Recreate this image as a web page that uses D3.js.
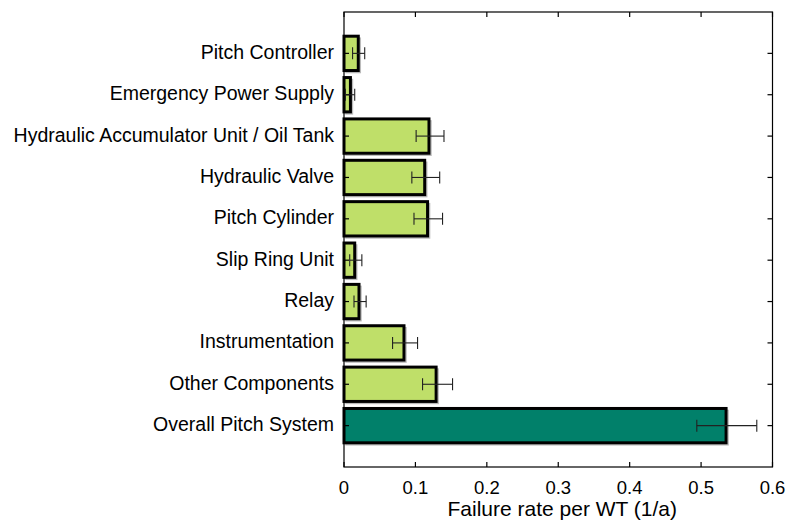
<!DOCTYPE html>
<html>
<head>
<meta charset="utf-8">
<script src="https://cdn.jsdelivr.net/npm/d3@7/dist/d3.min.js"></script>
<style>
  html, body { margin: 0; padding: 0; background: #fff; }
  svg { display: block; font-family: "Liberation Sans", Arial, sans-serif; }
</style>
</head>
<body>
<svg id="chart" width="787" height="526"></svg>
<script>
// Pitch system components, top to bottom
const categories = [
  "Pitch Controller",
  "Emergency Power Supply",
  "Hydraulic Accumulator Unit / Oil Tank",
  "Hydraulic Valve",
  "Pitch Cylinder",
  "Slip Ring Unit",
  "Relay",
  "Instrumentation",
  "Other Components",
  "Overall Pitch System"
];
// Failure rate per wind turbine and year
const rates = [0.020, 0.009, 0.119, 0.113, 0.117, 0.015, 0.021, 0.084, 0.129, 0.535];
// Confidence interval bounds
const lower = [0.012, 0.002, 0.101, 0.095, 0.098, 0.008, 0.014, 0.068, 0.110, 0.494];
const upper = [0.029, 0.015, 0.140, 0.134, 0.138, 0.025, 0.031, 0.103, 0.152, 0.578];
const xTicks = [0, 0.1, 0.2, 0.3, 0.4, 0.5, 0.6];
const xTickLabels = ["0", "0.1", "0.2", "0.3", "0.4", "0.5", "0.6"];

const plotL = 344, plotR = 772.5, plotT = 12, plotB = 467;
const svg = d3.select("#chart");

const x = d3.scaleLinear().domain([0, 0.6]).range([plotL, plotR]);
const y = d3.scalePoint().domain(categories).range([plotT, plotB]).padding(1);
const barH = y.step() * 0.83;

const data = categories.map((c, i) => ({ c, v: rates[i], lo: lower[i], hi: upper[i], overall: i === categories.length - 1 }));

// subtle drop shadow under each bar
svg.append("g").selectAll("rect").data(data).join("rect")
  .attr("x", x(0) + 2)
  .attr("y", d => y(d.c) - barH / 2 + 2)
  .attr("width", d => x(d.v) - x(0))
  .attr("height", barH)
  .attr("fill", "none")
  .attr("stroke", "#bbb")
  .attr("stroke-width", 1.5);

// bars
svg.append("g").selectAll("rect").data(data).join("rect")
  .attr("x", x(0))
  .attr("y", d => y(d.c) - barH / 2)
  .attr("width", d => x(d.v) - x(0))
  .attr("height", barH)
  .attr("fill", d => d.overall ? "#01806a" : "#bfdf69")
  .attr("stroke", "#000")
  .attr("stroke-width", 3);

// frame
svg.append("rect")
  .attr("x", plotL).attr("y", plotT)
  .attr("width", plotR - plotL).attr("height", plotB - plotT)
  .attr("fill", "none").attr("stroke", "#000").attr("stroke-width", 1.2);

// category ticks (inward, left and right)
const yt = svg.append("g").attr("stroke", "#000").attr("stroke-width", 1.2);
yt.selectAll("line.l").data(categories).join("line").attr("class", "l")
  .attr("x1", plotL).attr("x2", plotL + 5)
  .attr("y1", d => y(d)).attr("y2", d => y(d));
yt.selectAll("line.r").data(categories).join("line").attr("class", "r")
  .attr("x1", plotR).attr("x2", plotR - 5)
  .attr("y1", d => y(d)).attr("y2", d => y(d));

// value ticks (inward, bottom and top)
const xt = svg.append("g").attr("stroke", "#000").attr("stroke-width", 1.2);
xt.selectAll("line.b").data(xTicks).join("line").attr("class", "b")
  .attr("x1", d => x(d)).attr("x2", d => x(d))
  .attr("y1", plotB).attr("y2", plotB - 5);
xt.selectAll("line.t").data(xTicks).join("line").attr("class", "t")
  .attr("x1", d => x(d)).attr("x2", d => x(d))
  .attr("y1", plotT).attr("y2", plotT + 5);

// error bars
const eb = svg.append("g").attr("stroke", "#222").attr("stroke-width", 1.1);
data.forEach(d => {
  const cy = y(d.c);
  eb.append("line").attr("x1", x(d.lo)).attr("x2", x(d.hi)).attr("y1", cy).attr("y2", cy);
  eb.append("line").attr("x1", x(d.lo)).attr("x2", x(d.lo)).attr("y1", cy - 6).attr("y2", cy + 6);
  eb.append("line").attr("x1", x(d.hi)).attr("x2", x(d.hi)).attr("y1", cy - 6).attr("y2", cy + 6);
});

// category labels
svg.append("g").selectAll("text").data(categories).join("text")
  .attr("x", 334)
  .attr("y", d => y(d))
  .attr("dy", "0.28em")
  .attr("text-anchor", "end")
  .attr("font-size", 19.5)
  .attr("fill", "#000")
  .text(d => d);

// tick labels
svg.append("g").selectAll("text").data(xTicks).join("text")
  .attr("x", d => x(d))
  .attr("y", 493.5)
  .attr("text-anchor", "middle")
  .attr("font-size", 18.5)
  .attr("fill", "#000")
  .text((d, i) => xTickLabels[i]);

// axis title
svg.append("text")
  .attr("x", (plotL + plotR) / 2 + 4)
  .attr("y", 516)
  .attr("text-anchor", "middle")
  .attr("font-size", 21)
  .attr("fill", "#000")
  .text("Failure rate per WT (1/a)");
</script>
</body>
</html>
